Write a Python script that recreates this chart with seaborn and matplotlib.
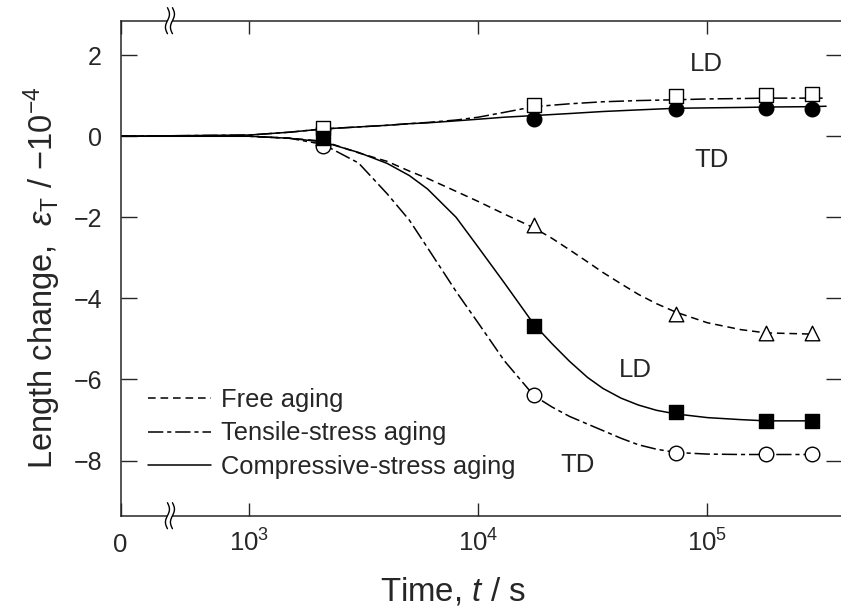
import matplotlib
matplotlib.use("Agg")
import matplotlib.pyplot as plt
import numpy as np
import seaborn as sns
from matplotlib.ticker import NullLocator

# ---- data ----
# aging time of the measured points (s)
mark_t = [2100, 17500, 73000, 180000, 286000]

free_td = [-0.05, -2.19, -4.38, -4.86, -4.86]        # open triangles
tensile_ld = [0.21, 0.77, 0.99, 1.01, 1.05]          # open squares
tensile_td = [-0.23, -6.39, -7.81, -7.85, -7.85]     # open circles
comp_ld = [-0.05, -4.67, -6.81, -7.02, -7.02]        # filled squares
comp_td = [0.18, 0.43, 0.66, 0.69, 0.67]             # filled circles

# fitted curves
curve_t = [0, 1000, 1500, 2100, 3000, 4000, 5000, 6000, 8000, 10000, 13000,
           17500, 21000, 25000, 30000, 35000, 42000, 50000, 60000, 73000,
           100000, 140000, 180000, 286000]
free_curve = [0, 0, -0.05, -0.12, -0.41, -0.62, -0.86, -1.04, -1.36, -1.61, -1.92,
              -2.26, -2.52, -2.80, -3.10, -3.36, -3.64, -3.90, -4.13, -4.34,
              -4.60, -4.77, -4.85, -4.88]
comp_ld_curve = [0, 0, -0.05, -0.14, -0.40, -0.67, -0.97, -1.30, -2.00, -2.74, -3.62,
                 -4.64, -5.12, -5.55, -5.95, -6.22, -6.46, -6.63, -6.76, -6.85,
                 -6.94, -6.99, -7.02, -7.02]
tensile_td_curve = [0, 0, -0.05, -0.20, -0.66, -1.42, -2.07, -2.75, -3.83, -4.61, -5.54,
                    -6.40, -6.68, -6.91, -7.10, -7.26, -7.45, -7.61, -7.72, -7.80,
                    -7.84, -7.85, -7.85, -7.85]

curve_t_top = [0, 1000, 1500, 2100, 3000, 4000, 5000, 6000, 8000, 10000, 13000,
               17500, 25000, 35000, 50000, 73000, 100000, 140000, 180000, 286000, 330000]
comp_td_curve = [0, 0.03, 0.10, 0.18, 0.23, 0.27, 0.31, 0.33, 0.38, 0.42, 0.47,
                 0.51, 0.56, 0.61, 0.65, 0.69, 0.70, 0.71, 0.72, 0.73, 0.74]
tensile_ld_curve = [0, 0.03, 0.10, 0.18, 0.23, 0.27, 0.31, 0.34, 0.40, 0.47, 0.59,
                    0.73, 0.80, 0.85, 0.88, 0.90, 0.92, 0.93, 0.94, 0.94, 0.94]

x_ticks = [0, 1e3, 1e4, 1e5]
x_ticklabels = ["0", "$10^3$", "$10^4$", "$10^5$"]
y_ticks = [-8, -6, -4, -2, 0, 2]

# ---- style ----
sns.set_style("ticks")
plt.rcParams["font.family"] = ["Liberation Sans", "DejaVu Sans"]
plt.rcParams["mathtext.fontset"] = "custom"
plt.rcParams["mathtext.rm"] = "Liberation Sans"
plt.rcParams["mathtext.it"] = "Liberation Sans:italic"
plt.rcParams["mathtext.bf"] = "Liberation Sans:bold"
plt.rcParams["lines.scale_dashes"] = False

T0 = 10 ** 2.4385          # time mapped onto the left edge ("0")
T_MAX = 10 ** 5.588


def fwd(t):
    return np.log10(np.maximum(np.asarray(t, dtype=float), T0))


def inv(x):
    return 10.0 ** np.asarray(x, dtype=float)


fig = plt.figure(figsize=(8.41, 6.16), dpi=100)
ax = fig.add_axes([0.1435, 0.1628, 0.8577, 0.8036])
ax.set_xscale("function", functions=(fwd, inv))

short_dash = (0, (5.5, 3.5))
long_dash = (0, (11, 2.8, 3, 2.8))

sns.lineplot(x=curve_t, y=free_curve, ax=ax, color="black", lw=1.1,
             linestyle=short_dash, label="Free aging")
sns.lineplot(x=curve_t_top, y=tensile_ld_curve, ax=ax, color="black", lw=1.1,
             linestyle=long_dash, label="Tensile-stress aging")
sns.lineplot(x=curve_t, y=tensile_td_curve, ax=ax, color="black", lw=1.1,
             linestyle=long_dash)
sns.lineplot(x=curve_t_top, y=comp_td_curve, ax=ax, color="black", lw=1.1,
             linestyle="-", label="Compressive-stress aging")
sns.lineplot(x=curve_t, y=comp_ld_curve, ax=ax, color="black", lw=1.1,
             linestyle="-")

ms = 110
sns.scatterplot(x=mark_t, y=free_td, ax=ax, marker="^", s=ms, color="white",
                edgecolor="black", linewidth=1.0, zorder=3)
sns.scatterplot(x=mark_t, y=comp_td, ax=ax, marker="o", s=ms, color="black",
                edgecolor="black", linewidth=1.0, zorder=4)
sns.scatterplot(x=mark_t, y=tensile_td, ax=ax, marker="o", s=ms, color="white",
                edgecolor="black", linewidth=1.0, zorder=5)
sns.scatterplot(x=mark_t, y=tensile_ld, ax=ax, marker="s", s=ms, color="white",
                edgecolor="black", linewidth=1.0, zorder=6)
sns.scatterplot(x=mark_t, y=comp_ld, ax=ax, marker="s", s=ms, color="black",
                edgecolor="black", linewidth=1.0, zorder=7)

ax.set_xlim(0, T_MAX)
ax.set_ylim(-9.36, 2.85)
ax.set_xticks(x_ticks, x_ticklabels, va="baseline")
ax.xaxis.set_minor_locator(NullLocator())
ax.set_yticks(y_ticks)
ax.tick_params(axis="x", direction="in", length=9.5, width=1.0, top=True,
               labelsize=18.5, pad=26)
ax.tick_params(axis="y", direction="in", length=11.5, width=1.0, right=True,
               labelsize=18, pad=13.5)
for sp in ax.spines.values():
    sp.set_linewidth(1.1)
    sp.set_visible(True)

ax.set_xlabel("Time, $t$ / s", fontsize=23.8)
ax.xaxis.set_label_coords(0.461, -0.121)
ax.set_ylabel(r"Length change,  $\varepsilon_{\mathrm{T}}$ / $-10^{-4}$", fontsize=23.5)
ax.yaxis.set_label_coords(-0.080, 0.481)

for txt, xf, yf in [("LD", 0.8115, 0.9125), ("TD", 0.8198, 0.7186),
                    ("LD", 0.713, 0.2943), ("TD", 0.634, 0.1024)]:
    ax.text(xf, yf, txt, transform=ax.transAxes, ha="center", va="center",
            fontsize=18.5)

ax.legend(loc="upper left", bbox_to_anchor=(0.0379, 0.258), frameon=False,
          fontsize=18.4, handlelength=2.45, handletextpad=0.4,
          labelspacing=0.37, borderpad=0, borderaxespad=0)

# axis-break marks on the time axis
PX = 1 / 721.3
PY = 1 / 495.0
BREAK_X = 0.0683
s = np.linspace(-1, 1, 50)
for yb in (0.0, 1.0):
    ax.add_patch(plt.Rectangle((BREAK_X - 2.5 * PX, yb - 3 * PY), 5 * PX, 6 * PY,
                               transform=ax.transAxes, fc="white", ec="none",
                               zorder=8, clip_on=False))
    for d in (-2.5, 2.5):
        ax.plot(BREAK_X + (d + 2.0 * np.sin(np.pi * s)) * PX, yb + 13 * s * PY,
                transform=ax.transAxes, color="black", lw=1.0, clip_on=False,
                zorder=9)

fig.savefig("out.png", dpi=100)
